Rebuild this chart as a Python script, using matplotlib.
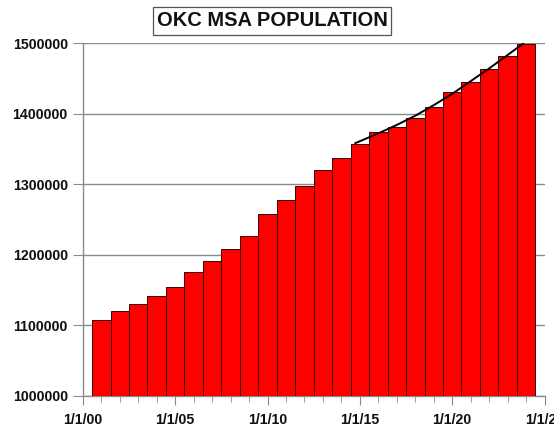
import matplotlib
matplotlib.use("Agg")
import matplotlib.pyplot as plt
from matplotlib.ticker import MultipleLocator, FixedLocator
import numpy as np

plt.rcParams['font.family'] = ['Liberation Sans', 'DejaVu Sans']

# Annual population estimates (mid-year), OKC MSA
years = [2000, 2001, 2002, 2003, 2004, 2005, 2006, 2007, 2008, 2009, 2010, 2011,
         2012, 2013, 2014, 2015, 2016, 2017, 2018, 2019, 2020, 2021, 2022, 2023]
population = [1107000, 1120000, 1131000, 1141000, 1155000, 1175000, 1191500, 1208000,
              1227000, 1258000, 1277500, 1298000, 1320500, 1336700, 1357000, 1373500,
              1381500, 1394000, 1410000, 1430000, 1444500, 1463000, 1481000, 1498500]

# Trend curve
trend_x = [2014.74, 2016.0, 2017.0, 2018.0, 2019.0, 2020.0, 2021.0, 2022.0, 2023.0, 2023.85]
trend_y = [1358000, 1372000, 1384000, 1397000, 1412000, 1428000, 1446000, 1464000, 1483000, 1499500]

tick_years = [2000, 2005, 2010, 2015, 2020, 2025]
tick_labels = ['1/1/00', '1/1/05', '1/1/10', '1/1/15', '1/1/20', '1/1/25']
y_ticks = [1000000, 1100000, 1200000, 1300000, 1400000, 1500000]

fig = plt.figure(figsize=(5.54, 4.28), dpi=100)
ax = fig.add_axes([0.1495, 0.0748, 0.8335, 0.8247])

base = 1000000
ax.bar(np.array(years) + 0.5, np.array(population) - base, bottom=base, width=1.0,
       align='edge', color='#ff0000', edgecolor='#3a0000', linewidth=0.7, zorder=3)
ax.plot(trend_x, trend_y, color='black', linewidth=1.4, zorder=4,
        solid_joinstyle='round', solid_capstyle='round')

ax.set_xlim(2000, 2025)
ax.set_ylim(1000000, 1500000)
ax.set_yticks(y_ticks)
ax.set_yticklabels([str(v) for v in y_ticks])
ax.xaxis.set_major_locator(FixedLocator(tick_years))
ax.set_xticklabels(tick_labels)
ax.xaxis.set_minor_locator(MultipleLocator(1))

for lab in ax.get_xticklabels() + ax.get_yticklabels():
    lab.set_fontweight('bold')
    lab.set_fontsize(10.2)
    lab.set_color('#111111')

ax.yaxis.grid(True, color='#8a8a8a', linewidth=1.0, zorder=0)
ax.set_axisbelow(True)
ax.tick_params(axis='y', direction='out', length=7.2, color='#8a8a8a', pad=3.6)
ax.tick_params(axis='x', which='major', direction='out', length=6.5, color='#8a8a8a', pad=6)
ax.tick_params(axis='x', which='minor', direction='out', length=4, color='#8a8a8a')

for s in ['top', 'right']:
    ax.spines[s].set_visible(False)
for s in ['left', 'bottom']:
    ax.spines[s].set_color('#8a8a8a')
    ax.spines[s].set_linewidth(1.0)

fig.text(272 / 554, 1 - 21 / 428, 'OKC MSA POPULATION', ha='center', va='center',
         fontsize=14.5, fontweight='bold', color='#111111',
         bbox=dict(boxstyle='square,pad=0.2', facecolor='white', edgecolor='#555555', linewidth=0.9))

fig.savefig('out.png', dpi=100)
